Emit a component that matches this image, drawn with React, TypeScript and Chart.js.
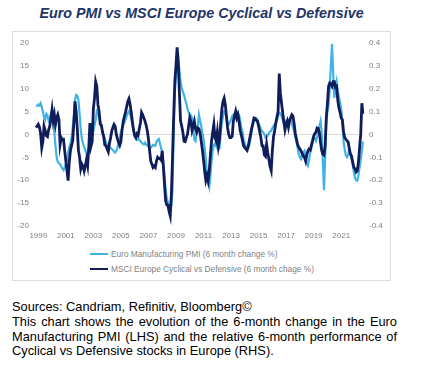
import { useEffect, useRef } from "react";
import { Chart, registerables } from "chart.js";

Chart.register(...registerables);

// Monthly observations, first point = Nov 1998
const START_YEAR = 1998;
const START_MONTH = 11;
const tickYears = ["1999", "2001", "2003", "2005", "2007", "2009", "2011", "2013", "2015", "2017", "2019", "2021"];

// Euro Manufacturing PMI, 6-month change (LHS)
const pmiValues = [
  6.3, 6.2, 6.5, 6.3, 6.8, 6.0, 5.0, 3.8, 3.2, 4.5,
  4.2, 3.0, 3.5, 4.5, 3.0, 3.2, 0.5, -2.5, -5.0, -6.0,
  -6.3, -6.5, -7.0, -7.5, -7.8, -7.2, -6.5, -5.5, -4.0, -2.8,
  -2.0, -0.8, 1.5, 4.0, 7.5, 8.6, 8.4, 7.5, 4.5, 1.0,
  -1.0, -2.0, -2.8, -3.5, -4.2, -3.8, -3.0, -2.0, -1.0, -0.2,
  0.8, 2.0, 3.2, 5.0, 4.6, 3.8, 2.9, 1.8, 0.5, -0.2,
  -1.0, -1.8, -2.2, -2.5, -2.8, -3.0, -3.2, -3.4, -3.8, -4.0,
  -3.6, -2.9, -1.8, -0.6, 0.5, 1.2, 2.0, 2.6, 3.2, 4.0,
  4.6, 5.0, 4.4, 3.5, 2.0, 0.8, -0.2, -0.8, -1.2, -0.9,
  -1.2, -1.5, -1.8, -2.0, -2.2, -1.8, -2.2, -2.4, -2.6, -2.8,
  -2.9, -2.6, -2.3, -2.4, -2.5, -1.6, -1.2, -1.0, -2.0, -3.0,
  -3.8, -6.5, -9.0, -12.0, -14.0, -14.8, -15.3, -16.4, -15.5, -12.0,
  0.7, 9.0, 13.0, 16.0, 16.9, 14.0, 11.5, 10.2, 9.3, 8.6,
  7.6, 6.8, 5.6, 4.9, 4.4, 4.2, 3.6, 1.5, -1.2, -1.5,
  0.2, 1.8, 4.3, 3.0, 1.8, 0.3, -1.0, -3.0, -5.5, -8.5,
  -10.5, -11.5, -9.0, -6.0, -3.5, -2.3, -2.0, -2.6, -3.0, -3.4,
  -3.0, 0.5, 2.5, 4.0, 5.0, 4.8, 3.5, 2.5, 2.2, 2.6,
  3.2, 4.0, 4.3, 4.5, 4.8, 5.0, 4.5, 4.3, 2.8, 1.5,
  0.5, -1.2, -2.0, -2.6, -3.2, -3.0, -2.2, -0.8, 0.8, 2.0,
  3.2, 3.4, 3.5, 3.2, 2.4, 1.8, 1.1, 0.7, 0.5, 0.0,
  -0.7, -0.6, -0.3, 0.3, 0.6, 0.8, 1.4, 1.8, 2.2, 2.5,
  3.0, 4.0, 4.7, 4.6, 4.0, 3.2, 2.3, 2.6, 3.0, 2.6,
  2.8, 3.0, 3.2, 2.4, 1.5, 0.7, -0.6, -1.6, -2.9, -4.3,
  -5.0, -5.4, -4.6, -4.0, -3.6, -5.0, -6.3, -6.8, -5.5, -4.0,
  -3.0, -1.8, -0.8, -0.8, -1.4, -0.5, 0.8, 1.8, 2.9, 0.5,
  -6.0, -12.2, -5.0, 2.5, 5.0, 6.5, 10.0, 15.0, 19.8, 13.5,
  8.0, 10.0, 11.5, 9.5, 8.3, 7.0, 5.5, 2.8, -1.4, -3.2,
  -4.6, -5.0, -4.5, -3.0, -4.3, -5.4, -6.5, -8.2, -9.5, -10.0,
  -10.1, -9.0, -7.2, -5.5, -3.5, -1.6,
];

// MSCI Europe Cyclical vs Defensive, 6-month change (RHS)
const cycDefValues = [
  0.030, 0.036, 0.044, 0.032, 0.004, -0.058, -0.030, 0.036, 0.018, -0.006,
  -0.010, 0.020, 0.036, 0.068, 0.108, 0.060, 0.086, 0.044, 0.072, 0.086,
  0.064, -0.044, -0.014, -0.024, -0.022, -0.072, -0.116, -0.158, -0.202, -0.120,
  -0.072, -0.048, -0.028, 0.050, 0.144, 0.100, 0.024, -0.070, -0.100, -0.150,
  -0.130, -0.140, -0.160, -0.136, -0.110, -0.136, -0.060, 0.050, -0.050, -0.030,
  0.110, 0.158, 0.230, 0.210, 0.130, 0.100, 0.044, 0.040, 0.010, -0.010,
  -0.046, -0.050, -0.064, -0.076, -0.040, -0.016, 0.014, 0.030, 0.044, 0.036,
  0.000, -0.020, -0.036, -0.048, -0.032, 0.020, 0.056, 0.078, 0.096, 0.120,
  0.144, 0.156, 0.132, 0.096, 0.056, 0.020, -0.006, -0.014, 0.002, -0.004,
  0.024, 0.050, 0.096, 0.086, 0.072, 0.058, 0.040, 0.016, -0.020, -0.070,
  -0.116, -0.130, -0.144, -0.138, -0.144, -0.116, -0.100, -0.106, -0.104, -0.112,
  -0.072, -0.140, -0.220, -0.290, -0.308, -0.310, -0.336, -0.356, -0.260, -0.100,
  0.080, 0.230, 0.302, 0.380, 0.310, 0.180, 0.058, 0.036, 0.010, -0.030,
  -0.032, -0.014, 0.000, 0.036, 0.072, 0.056, 0.018, 0.038, 0.058, 0.024,
  0.010, 0.028, 0.024, 0.006, -0.030, -0.066, -0.110, -0.160, -0.200, -0.180,
  -0.202, -0.160, -0.090, -0.030, 0.010, 0.044, -0.014, -0.028, 0.010, -0.050,
  -0.020, 0.050, 0.110, 0.144, 0.158, 0.130, 0.080, 0.028, 0.000, -0.014,
  -0.014, -0.008, 0.058, 0.080, 0.100, 0.072, 0.086, 0.056, 0.016, -0.004,
  -0.028, -0.050, -0.058, -0.064, -0.070, -0.052, -0.024, 0.000, 0.028, 0.048,
  0.072, 0.070, 0.062, 0.058, 0.036, 0.012, -0.014, -0.050, -0.050, -0.090,
  -0.096, -0.044, -0.080, -0.110, -0.140, -0.158, -0.070, -0.010, 0.016, 0.050,
  0.076, 0.100, 0.266, 0.180, 0.136, 0.096, 0.056, 0.020, 0.044, 0.058,
  0.032, 0.060, 0.074, 0.086, 0.080, 0.046, 0.004, -0.020, -0.044, -0.056,
  -0.064, -0.072, -0.084, -0.094, -0.100, -0.116, -0.090, -0.072, -0.064, -0.068,
  -0.048, -0.028, -0.008, 0.004, 0.010, 0.028, 0.026, 0.008, -0.036, -0.070,
  -0.086, -0.090, -0.050, 0.072, 0.136, 0.210, 0.224, 0.220, 0.210, 0.230,
  0.230, 0.206, 0.210, 0.150, 0.116, 0.096, 0.072, 0.064, 0.014, -0.014,
  -0.020, -0.028, -0.032, -0.060, -0.086, -0.094, -0.120, -0.144, -0.150, -0.164,
  -0.158, -0.124, -0.060, 0.000, 0.136, 0.090,
];

const LIGHT = "#3fb3e6";
const DARK = "#0f1d5a";
const TICK_COLOR = "#7f7f7f";
const FONT = "'Liberation Sans', Arial, sans-serif";

const monthYear = (i: number) => {
  const t = START_MONTH - 1 + i;
  return { year: START_YEAR + Math.floor(t / 12), month: (t % 12) + 1 };
};
const labels = pmiValues.map((_, i) => {
  const { year, month } = monthYear(i);
  return `${year}-${String(month).padStart(2, "0")}`;
});

export default function App() {
  const ref = useRef<HTMLCanvasElement>(null);

  useEffect(() => {
    if (!ref.current) return;
    const chart = new Chart(ref.current, {
      type: "line",
      data: {
        labels,
        datasets: [
          {
            label: "Euro Manufacturing PMI (6 month change %)",
            data: pmiValues,
            yAxisID: "y",
            borderColor: LIGHT,
            backgroundColor: LIGHT,
            borderWidth: 2.2,
            pointRadius: 0,
            tension: 0,
            order: 1,
          },
          {
            label: "MSCI Europe Cyclical vs Defensive (6 month chage %)",
            data: cycDefValues,
            yAxisID: "y1",
            borderColor: DARK,
            backgroundColor: DARK,
            borderWidth: 2.8,
            pointRadius: 0,
            tension: 0,
            order: 0,
          },
        ],
      },
      options: {
        animation: false,
        responsive: false,
        maintainAspectRatio: false,
        layout: { padding: { top: 10, left: 0, right: 0, bottom: 0 } },
        plugins: {
          legend: { display: false },
          tooltip: { enabled: false },
        },
        scales: {
          x: {
            type: "category",
            offset: false,
            grid: { display: false, drawTicks: false },
            border: { display: false },
            ticks: {
              autoSkip: false,
              maxRotation: 0,
              minRotation: 0,
              padding: 5,
              color: TICK_COLOR,
              font: { family: FONT, size: 8 },
              callback: (_v: any, i: number) => {
                const { year, month } = monthYear(i);
                return month === 1 && tickYears.includes(String(year)) ? String(year) : null;
              },
            },
            afterFit: (s: any) => {
              s.height = 20;
            },
          },
          y: {
            position: "left",
            min: -20,
            max: 20,
            ticks: {
              stepSize: 5,
              padding: 7,
              color: TICK_COLOR,
              font: { family: FONT, size: 8 },
            },
            grid: {
              drawTicks: false,
              lineWidth: 1,
              color: (ctx: any) => (ctx.tick && ctx.tick.value === 0 ? "#d9d9d9" : "rgba(0,0,0,0)"),
            },
            border: { display: false },
            afterFit: (s: any) => {
              s.width = 24;
            },
          },
          y1: {
            position: "right",
            min: -0.4,
            max: 0.4,
            ticks: {
              stepSize: 0.1,
              padding: 6,
              color: TICK_COLOR,
              font: { family: FONT, size: 8 },
              callback: (v: any) => String(Math.round(Number(v) * 10) / 10),
            },
            grid: { display: false, drawTicks: false },
            border: { display: false },
            afterFit: (s: any) => {
              s.width = 27;
            },
          },
        },
      },
    });
    return () => chart.destroy();
  }, []);

  const legendText: React.CSSProperties = {
    position: "absolute",
    left: 111,
    fontFamily: FONT,
    fontSize: 8.3,
    lineHeight: "10px",
    color: TICK_COLOR,
    whiteSpace: "nowrap",
  };
  const para: React.CSSProperties = {
    textAlign: "justify",
    textAlignLast: "justify" as any,
    height: 14.7,
  };

  return (
    <div style={{ position: "absolute", left: 0, top: 0, width: 445, height: 366, background: "#fff" }}>
      <div
        style={{
          position: "absolute",
          left: 0,
          top: 5,
          width: 403,
          textAlign: "center",
          fontFamily: FONT,
          fontWeight: "bold",
          fontStyle: "italic",
          fontSize: 14.3,
          lineHeight: "16px",
          color: "#1f3468",
          whiteSpace: "nowrap",
        }}
      >
        Euro PMI vs MSCI Europe Cyclical vs Defensive
      </div>
      <div
        style={{
          position: "absolute",
          left: 12,
          top: 31,
          width: 377,
          height: 248,
          border: "1px solid #dedede",
        }}
      />
      <canvas
        ref={ref}
        width={378}
        height={215}
        style={{ position: "absolute", left: 12, top: 31, width: 378, height: 215 }}
      />
      <div style={{ position: "absolute", left: 90, top: 253, width: 18, height: 2, background: LIGHT }} />
      <div style={{ ...legendText, top: 249 }}>Euro Manufacturing PMI (6 month change %)</div>
      <div style={{ position: "absolute", left: 90, top: 267.5, width: 18, height: 2.5, background: DARK }} />
      <div style={{ ...legendText, top: 263.7 }}>MSCI Europe Cyclical vs Defensive (6 month chage %)</div>
      <div
        style={{
          position: "absolute",
          left: 12,
          top: 300.3,
          width: 385,
          fontFamily: FONT,
          fontSize: 12.8,
          lineHeight: "14.7px",
          color: "#000",
        }}
      >
        <div style={{ height: 14.7 }}>Sources: Candriam, Refinitiv, Bloomberg©</div>
        <div style={para}>This chart shows the evolution of the 6-month change in the Euro</div>
        <div style={para}>Manufacturing PMI (LHS) and the relative 6-month performance of</div>
        <div style={{ height: 14.7 }}>Cyclical vs Defensive stocks in Europe (RHS).</div>
      </div>
    </div>
  );
}
